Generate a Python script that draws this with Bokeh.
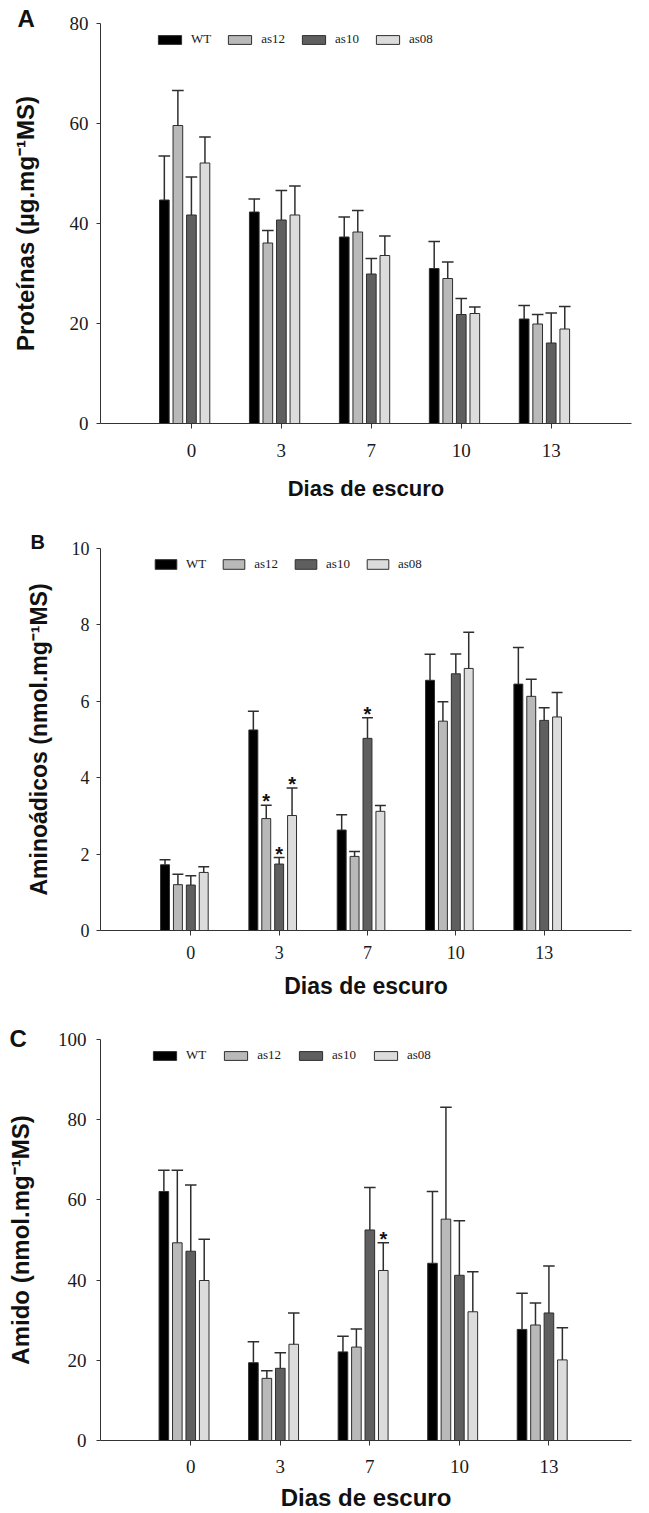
from bokeh.plotting import figure
from bokeh.layouts import column
from bokeh.models import FixedTicker, Legend, LegendItem, Range1d
from bokeh.core.properties import value
from bokeh.embed import file_html
from bokeh.resources import INLINE

# ---------------- data ----------------
days = ["0", "3", "7", "10", "13"]
lines = ["WT", "as12", "as10", "as08"]

# Panel A - Proteínas (µg.mg-1 MS)
prot_wt = [44.7, 42.3, 37.3, 31.0, 20.9]
prot_as12 = [59.6, 36.1, 38.3, 29.0, 19.9]
prot_as10 = [41.7, 40.7, 29.9, 21.8, 16.1]
prot_as08 = [52.1, 41.7, 33.6, 22.0, 18.9]
prot_wt_err = [8.8, 2.6, 4.0, 5.4, 2.7]
prot_as12_err = [7.0, 2.5, 4.3, 3.3, 1.9]
prot_as10_err = [7.6, 5.9, 3.1, 3.2, 6.0]
prot_as08_err = [5.2, 5.8, 3.9, 1.3, 4.5]
prot_sig = []  # (day index, line index)

# Panel B - Aminoácidos (nmol.mg-1 MS)
amino_wt = [1.72, 5.25, 2.63, 6.55, 6.45]
amino_as12 = [1.20, 2.93, 1.94, 5.48, 6.13]
amino_as10 = [1.19, 1.74, 5.03, 6.72, 5.50]
amino_as08 = [1.52, 3.01, 3.12, 6.86, 5.59]
amino_wt_err = [0.13, 0.49, 0.40, 0.68, 0.96]
amino_as12_err = [0.27, 0.35, 0.13, 0.51, 0.45]
amino_as10_err = [0.24, 0.17, 0.54, 0.52, 0.33]
amino_as08_err = [0.15, 0.72, 0.15, 0.95, 0.64]
amino_sig = [(1, 1), (1, 2), (1, 3), (2, 2)]

# Panel C - Amido (nmol.mg-1 MS)
amido_wt = [62.1, 19.4, 22.1, 44.2, 27.7]
amido_as12 = [49.3, 15.5, 23.3, 55.2, 28.8]
amido_as10 = [47.2, 18.0, 52.5, 41.2, 31.8]
amido_as08 = [39.9, 24.0, 42.4, 32.1, 20.1]
amido_wt_err = [5.3, 5.2, 3.9, 17.9, 9.0]
amido_as12_err = [18.1, 1.9, 4.5, 27.9, 5.5]
amido_as10_err = [16.5, 3.9, 10.6, 13.6, 11.7]
amido_as08_err = [10.3, 7.8, 6.9, 10.0, 8.0]
amido_sig = [(2, 3)]

COLORS = ["#000000", "#b9b9b9", "#5f5f5f", "#dcdcdc"]
EDGE = "#2e2e2e"
W = 649
SERIF = "Liberation Serif"
SANS = "Liberation Sans"


def make_panel(letter, ylabel, means, errs, sig, yticks, ymax, g):
    frame_left = g["b_left"]
    frame_w = W - g["b_left"] - g["b_right"]
    pitch = g["pitch"]
    x0 = (frame_left - g["cat0"]) / pitch
    x1 = x0 + frame_w / pitch
    p = figure(width=W, height=g["height"], x_range=Range1d(x0, x1),
               y_range=Range1d(0, ymax), output_backend="svg",
               toolbar_location=None, min_border_top=g["b_top"],
               min_border_bottom=g["b_bottom"], min_border_left=g["b_left"],
               min_border_right=g["b_right"], title=letter)
    p.outline_line_color = None
    p.xgrid.visible = False
    p.ygrid.visible = False

    # panel letter as the figure title, pulled to the top-left corner
    t = p.title
    t.align = "left"
    t.vertical_align = "middle"
    t.offset = g["letter_off"]
    t.standoff = g["letter_so"]
    t.text_font = SANS
    t.text_font_style = "bold"
    t.text_font_size = g["letter_font"]
    t.text_color = "#111111"

    offs = [o / pitch for o in g["offs"]]
    bw = g["bar"] / pitch
    cw = g["cap"] / pitch / 2
    renderers = []
    for j, name in enumerate(lines):
        xs = [i + offs[j] for i in range(len(days))]
        r = p.vbar(x=xs, top=means[j], width=bw, bottom=0,
                   fill_color=COLORS[j], line_color=EDGE, line_width=1)
        renderers.append(r)
        tops = [m + e for m, e in zip(means[j], errs[j])]
        p.segment(x0=xs, y0=means[j], x1=xs, y1=tops, line_color=EDGE, line_width=1.5)
        p.segment(x0=[x - cw for x in xs], y0=tops, x1=[x + cw for x in xs], y1=tops,
                  line_color=EDGE, line_width=1.5)

    if sig:
        sx = [d + offs[j] for d, j in sig]
        sy = [means[j][d] + errs[j][d] for d, j in sig]
        p.text(x=sx, y=sy, text=["*"] * len(sig), text_font=value(SANS),
               text_font_style="bold", text_font_size="20px", text_align="center",
               text_baseline="alphabetic", text_color="#111111", y_offset=-4)

    # axes
    for ax in (p.xaxis[0], p.yaxis[0]):
        ax.axis_line_color = "#333333"
        ax.major_tick_line_color = "#333333"
        ax.minor_tick_line_color = None
        ax.major_tick_in = 0
        ax.major_label_text_font = SERIF
        ax.major_label_text_color = "#1a1a1a"
        ax.major_label_text_font_size = g["tick_font"]
        ax.axis_label_text_font = SANS
        ax.axis_label_text_font_style = "bold"
        ax.axis_label_text_color = "#111111"
    xa = p.xaxis[0]
    xa.ticker = FixedTicker(ticks=list(range(len(days))))
    xa.major_label_overrides = {i: d for i, d in enumerate(days)}
    xa.major_tick_out = 5
    xa.major_label_standoff = g["xtick_so"]
    xa.axis_label = "Dias de escuro"
    xa.axis_label_text_font_size = g["xlab_font"]
    xa.axis_label_standoff = g["xlab_so"]
    ya = p.yaxis[0]
    ya.ticker = FixedTicker(ticks=yticks)
    ya.major_tick_out = 4
    ya.major_label_standoff = g["ytick_so"]
    ya.axis_label = ylabel
    ya.axis_label_text_font_size = g["ylab_font"]
    ya.axis_label_standoff = g["ylab_so"]

    legend = Legend(items=[LegendItem(label=n, renderers=[r]) for n, r in zip(lines, renderers)],
                    location=g["leg_loc"], orientation="horizontal",
                    glyph_width=g["glyph_w"], glyph_height=g["glyph_h"],
                    label_height=g["glyph_h"], label_width=0,
                    label_standoff=7, spacing=g["leg_sp"], padding=0, margin=0,
                    border_line_color=None, background_fill_alpha=0,
                    label_text_font=SERIF, label_text_font_size="13px",
                    label_text_color="#1a1a1a")
    p.add_layout(legend)
    return p


gA = dict(height=508, b_top=23, b_bottom=85, b_left=100, b_right=0,
          cat0=194, pitch=93, offs=[-28, -14, 0, 14], bar=10, cap=12,
          tick_font="19px", xtick_so=15, ytick_so=8, xlab_font="22px", xlab_so=16,
          ylab_font="24px", ylab_so=28, leg_loc=(55, 376), glyph_w=29, glyph_h=11,
          leg_sp=14, letter_off=-83, letter_so=-19, letter_font="24px")
gB = dict(height=502, b_top=40, b_bottom=80, b_left=96, b_right=18,
          cat0=187, pitch=89, offs=[-26, -13, 0, 13], bar=9, cap=11,
          tick_font="18px", xtick_so=10, ytick_so=7, xlab_font="23px", xlab_so=11,
          ylab_font="23px", ylab_so=17, leg_loc=(52, 358), glyph_w=27, glyph_h=12,
          leg_sp=14, letter_off=-70, letter_so=-10, letter_font="20px")
gC = dict(height=503, b_top=29, b_bottom=70, b_left=96, b_right=0,
          cat0=190, pitch=93.25, offs=[-28, -14, 0, 14], bar=10, cap=12,
          tick_font="19px", xtick_so=14, ytick_so=10, xlab_font="24px", xlab_so=8,
          ylab_font="24px", ylab_so=21, leg_loc=(50, 377), glyph_w=29, glyph_h=11,
          leg_sp=15, letter_off=-91, letter_so=-27, letter_font="24px")

pA = make_panel("A", "Proteínas (µg.mg⁻¹MS)",
                [prot_wt, prot_as12, prot_as10, prot_as08],
                [prot_wt_err, prot_as12_err, prot_as10_err, prot_as08_err],
                prot_sig, [0, 20, 40, 60, 80], 80, gA)
pB = make_panel("B", "Aminoádicos (nmol.mg⁻¹MS)",
                [amino_wt, amino_as12, amino_as10, amino_as08],
                [amino_wt_err, amino_as12_err, amino_as10_err, amino_as08_err],
                amino_sig, [0, 2, 4, 6, 8, 10], 10, gB)
pC = make_panel("C", "Amido (nmol.mg⁻¹MS)",
                [amido_wt, amido_as12, amido_as10, amido_as08],
                [amido_wt_err, amido_as12_err, amido_as10_err, amido_as08_err],
                amido_sig, [0, 20, 40, 60, 80, 100], 100, gC)

layout = column(pA, pB, pC, spacing=0)
open("out.html", "w").write(file_html(layout, INLINE))
